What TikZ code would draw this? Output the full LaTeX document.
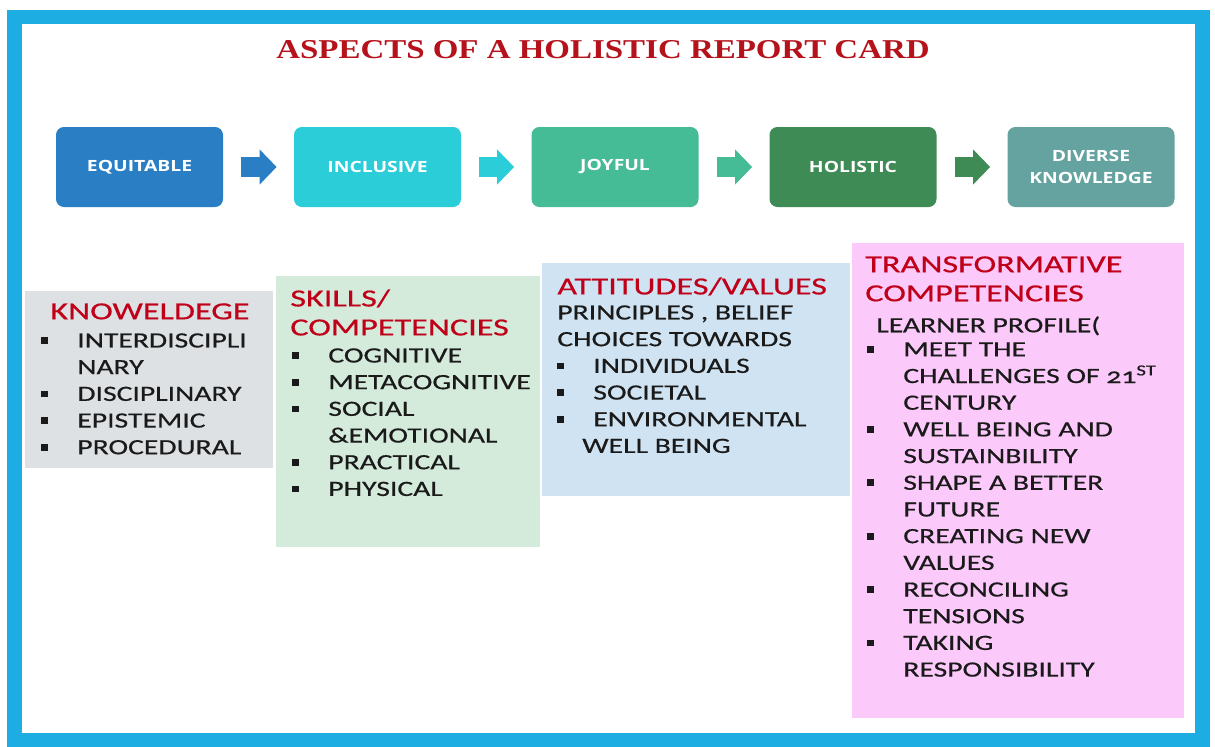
\documentclass[tikz,border=0pt]{standalone}
\usepackage{fontspec}
\setmainfont{Carlito}[FakeStretch=1.36, FakeBold=0.5]
\newfontfamily\headfont{Carlito}[FakeStretch=1.39, FakeBold=0.5]
\newfontfamily\titlefont{Liberation Serif}[FakeStretch=1.21]
\newfontfamily\boxfont{Open Sans}[FakeStretch=1.25]
\usetikzlibrary{arrows.meta}

\definecolor{frameblue}{HTML}{1DADE2}
\definecolor{titlered}{HTML}{B5121B}
\definecolor{headred}{HTML}{C00018}
\definecolor{inkblack}{HTML}{1A1A1A}
\definecolor{eqblue}{HTML}{2A7FC4}
\definecolor{incyan}{HTML}{2BCDD8}
\definecolor{joygreen}{HTML}{45BB96}
\definecolor{holgreen}{HTML}{3E8B55}
\definecolor{divteal}{HTML}{65A3A0}
\definecolor{knowgray}{HTML}{DEE1E4}
\definecolor{skillgreen}{HTML}{D4EBDB}
\definecolor{attblue}{HTML}{D0E3F2}
\definecolor{transpink}{HTML}{FCC9FB}

% one pixel of the reference
\def\pxu{0.02cm}
% square bullet with its indent
\newcommand{\sqb}{\makebox[20.5pt][l]{\raisebox{2pt}{\rule{3.9pt}{3.9pt}}}}
\newcommand{\ind}{\hspace*{20.5pt}}

\tikzset{
  topbox/.style={rounded corners=4.5pt, minimum width=167*\pxu, minimum height=80*\pxu,
    inner sep=0, align=center, text=white, font=\boxfont\bfseries\fontsize{8.8}{12}\selectfont},
  flow/.style={line width=11.4pt, -{Triangle[length=9.7pt, width=19.4pt]}},
  panel/.style={anchor=north west, inner sep=0},
  head/.style={anchor=north west, inner sep=0, align=left, text=headred,
    font=\headfont\fontsize{14}{16.5}\selectfont},
  items/.style={anchor=north west, inner sep=0, align=left, text=inkblack,
    font=\fontsize{12.4}{15.19}\selectfont}
}

\begin{document}
\begin{tikzpicture}[x=0.02cm, y=-0.02cm]
  \useasboundingbox (0,0) rectangle (1215,747);

  % frame
  \fill[frameblue] (7,10) rectangle (1210,747);
  \fill[white] (22,24) rectangle (1195,733);

  \node[anchor=base, inner sep=0, text=titlered, font=\titlefont\bfseries\fontsize{15.5}{18}\selectfont]
    (title) at (603,58) {ASPECTS OF A HOLISTIC REPORT CARD};

  % top row
  \node[topbox, fill=eqblue] (equit) at (139.5,167) {EQUITABLE};
  \node[topbox, fill=incyan] (incl) at (377.5,167) {INCLUSIVE};
  \node[topbox, fill=joygreen] (joy) at (615,167) {JOYFUL};
  \node[topbox, fill=holgreen] (holi) at (853,167) {HOLISTIC};
  \node[topbox, fill=divteal] (divk) at (1091,167) {DIVERSE\\KNOWLEDGE};

  \draw[flow, eqblue] ([xshift=18*\pxu]equit.east) -- ([xshift=-17*\pxu]incl.west);
  \draw[flow, incyan] ([xshift=18*\pxu]incl.east) -- ([xshift=-17*\pxu]joy.west);
  \draw[flow, joygreen] ([xshift=18*\pxu]joy.east) -- ([xshift=-17*\pxu]holi.west);
  \draw[flow, holgreen] ([xshift=18*\pxu]holi.east) -- ([xshift=-17*\pxu]divk.west);

  % panels
  \node[panel, fill=knowgray, minimum width=248*\pxu, minimum height=177*\pxu] (know) at (25,291) {};
  \node[panel, fill=skillgreen, minimum width=264*\pxu, minimum height=271*\pxu] (skill) at (276,276) {};
  \node[panel, fill=attblue, minimum width=308*\pxu, minimum height=233*\pxu] (att) at (542,263) {};
  \node[panel, fill=transpink, minimum width=332*\pxu, minimum height=475*\pxu] (trans) at (852,243) {};

  % knowledge
  \node[head] (knowhd) at (50,303) {KNOWELDEGE};
  \node[items] (knowls) at (41,333) {\sqb INTERDISCIPLI\\ \ind NARY\\ \sqb DISCIPLINARY\\
    \sqb EPISTEMIC\\ \sqb PROCEDURAL};

  % skills
  \node[head] (skillhd) at (290,289) {SKILLS/\\COMPETENCIES};
  \node[items] (skillls) at (292,348) {\sqb COGNITIVE\\ \sqb METACOGNITIVE\\ \sqb SOCIAL\\
    \ind \&EMOTIONAL\\ \sqb PRACTICAL\\ \sqb PHYSICAL};

  % attitudes
  \node[head] (atthd) at (557,277) {ATTITUDES/VALUES};
  \node[items] (attls) at (557,305) {PRINCIPLES , BELIEF\\ CHOICES TOWARDS\\ \sqb INDIVIDUALS\\
    \sqb SOCIETAL\\ \sqb ENVIRONMENTAL\\ \hspace*{14.2pt}WELL BEING};

  % transformative
  \node[head] (transhd) at (865,256) {TRANSFORMATIVE\\COMPETENCIES};
  \node[items] (learner) at (876,316) {LEARNER PROFILE(};
  \node[items] (transls) at (867,342) {\sqb MEET THE\\
    \ind CHALLENGES OF {\addfontfeature{Numbers=OldStyle}21}\textsuperscript{ST}\\
    \ind CENTURY\\ \sqb WELL BEING AND\\ \ind SUSTAINBILITY\\ \sqb SHAPE A BETTER\\ \ind FUTURE\\
    \sqb CREATING NEW\\ \ind VALUES\\ \sqb RECONCILING\\ \ind TENSIONS\\ \sqb TAKING\\
    \ind RESPONSIBILITY};
\end{tikzpicture}
\end{document}
